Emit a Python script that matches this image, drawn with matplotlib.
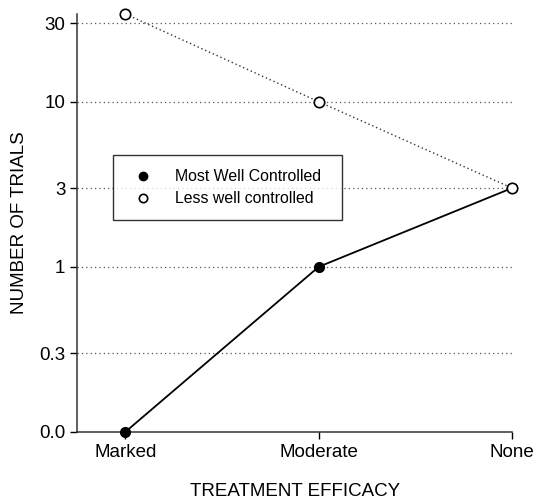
import numpy as np
import matplotlib
matplotlib.use("Agg")
import matplotlib.pyplot as plt
from matplotlib.ticker import FixedLocator, FixedFormatter, NullLocator

plt.rcParams['font.family'] = ['Liberation Sans', 'DejaVu Sans']

categories = ["Marked", "Moderate", "None"]
# "0.0" is drawn at the 0.1 position of the log axis
most_well = [0.1, 1.0, 3.0]
less_well = [34.0, 10.0, 3.0]
ytick_vals = [0.1, 0.3, 1, 3, 10, 30]
ytick_labels = ["0.0", "0.3", "1", "3", "10", "30"]

fig = plt.figure(figsize=(5.39, 5.01), dpi=100)
ax = fig.add_axes([0.143, 0.138, 0.807, 0.834])
x = np.arange(len(categories))

for v in ytick_vals[1:]:
    ax.axhline(v, color="#555555", ls=(0, (1, 2.5)), lw=0.9, zorder=1)

ax.plot(x, most_well, color="black", ls="-", lw=1.3, marker="o",
        ms=7, mfc="black", mec="black", clip_on=False, zorder=3,
        label="Most Well Controlled")
ax.plot(x, less_well, color="#333333", ls=(0, (1, 2)), lw=1.0, marker="o",
        ms=7.5, mfc="white", mec="black", mew=1.2, clip_on=False, zorder=4,
        label="Less well controlled")

ax.set_yscale("log")
ax.set_ylim(0.1, 34)
ax.set_xlim(-0.25, 2)
ax.yaxis.set_major_locator(FixedLocator(ytick_vals))
ax.yaxis.set_major_formatter(FixedFormatter(ytick_labels))
ax.yaxis.set_minor_locator(NullLocator())
ax.set_xticks(x)
ax.set_xticklabels(categories)
ax.tick_params(labelsize=13.5, length=5, width=1, direction="out")
for s in ("top", "right"):
    ax.spines[s].set_visible(False)
for s in ("left", "bottom"):
    ax.spines[s].set_linewidth(1.1)
    ax.spines[s].set_color("#333333")

ax.set_xlabel("TREATMENT EFFICACY", fontsize=13.5, labelpad=16)
ax.set_ylabel("NUMBER OF TRIALS", fontsize=13.5, labelpad=8)

leg = ax.legend(loc="upper left",
                bbox_to_anchor=(0.083, 0.663, 0.527, 0.0), mode="expand",
                fontsize=11.4, frameon=True, fancybox=False, borderaxespad=0,
                handlelength=2.0, handletextpad=1.0, borderpad=0.9,
                labelspacing=0.45)
leg.get_frame().set_edgecolor("black")
leg.get_frame().set_linewidth(1.0)
for line in leg.get_lines():
    line.set_linestyle("none")
    line.set_markersize(6)

fig.savefig("out.png", dpi=100)
